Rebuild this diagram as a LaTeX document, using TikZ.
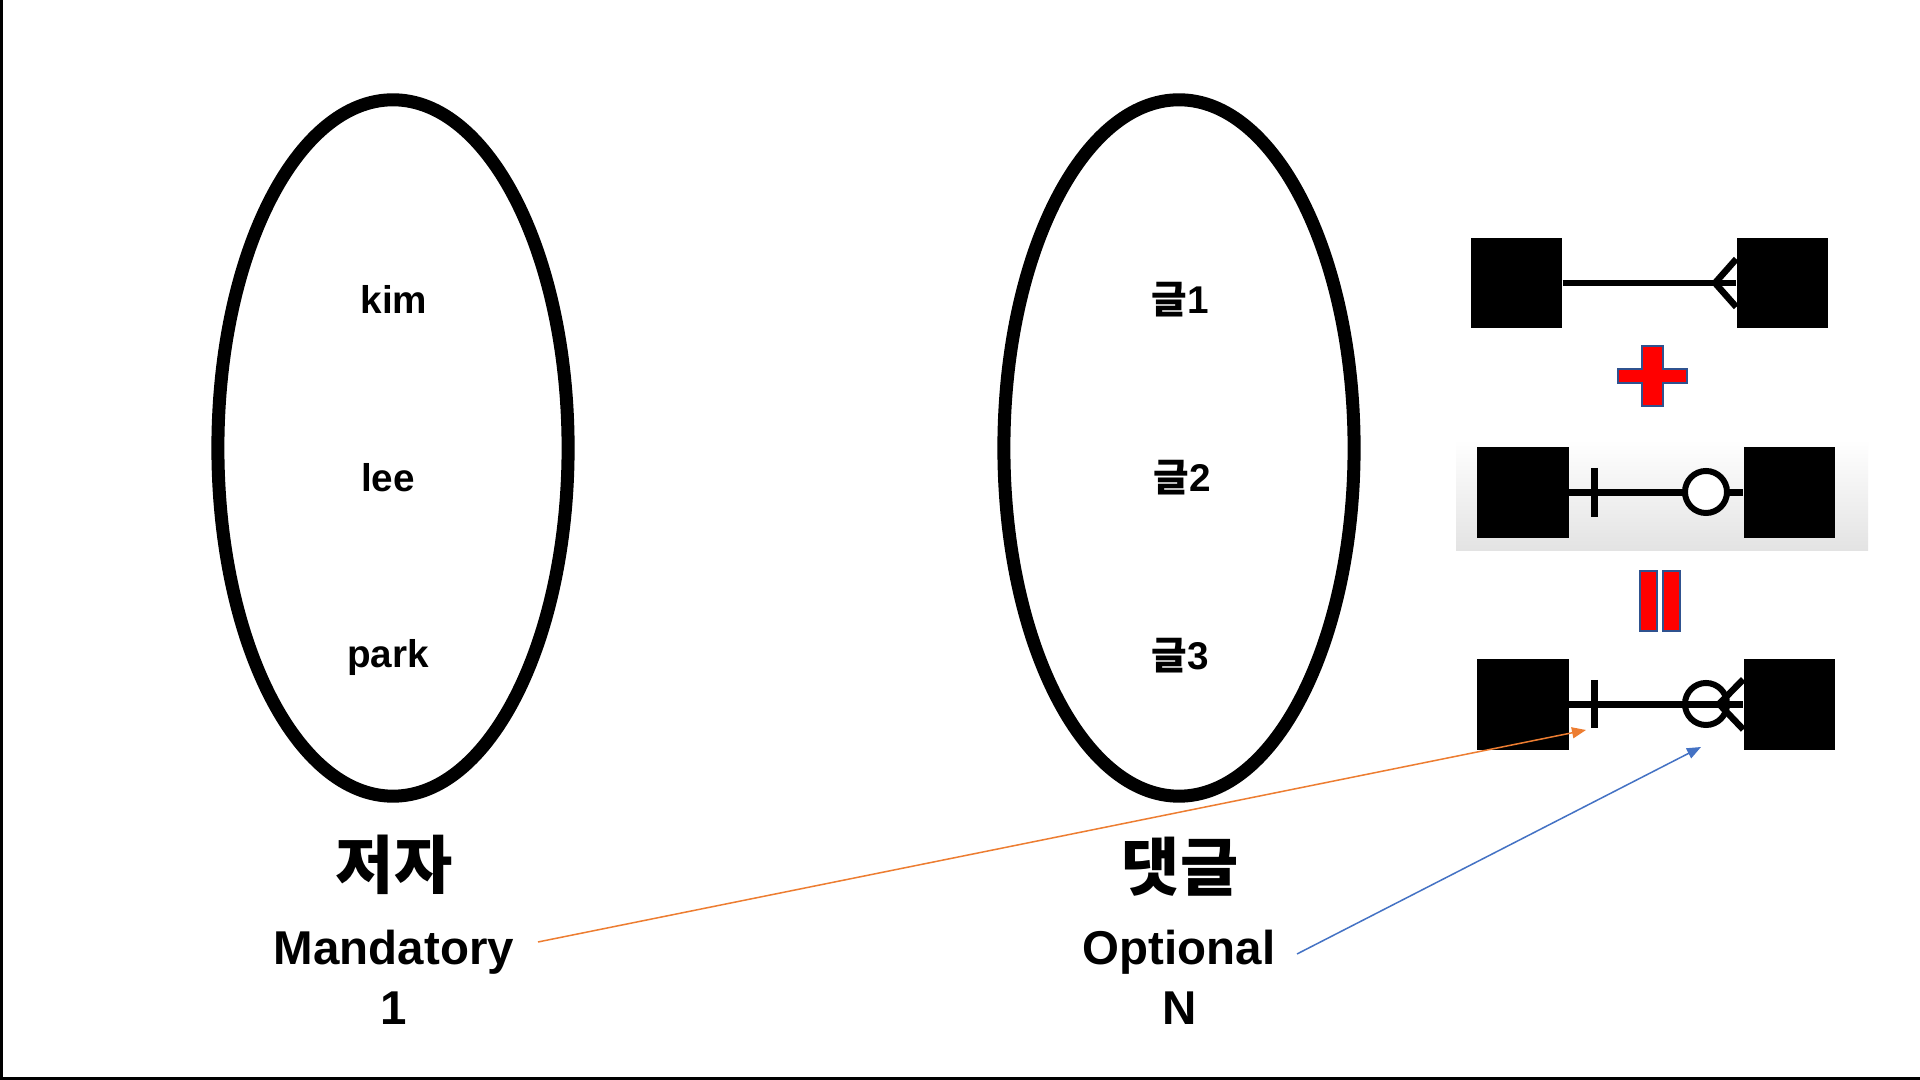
\documentclass[tikz,border=0pt]{standalone}
\usepackage{fontspec}
\setmainfont{Liberation Sans}
\newfontfamily\kr{Noto Sans CJK KR}
\usetikzlibrary{shapes.geometric,arrows.meta,calc}

\definecolor{arrorange}{HTML}{ED7D31}
\definecolor{arrblue}{HTML}{4472C4}
\definecolor{signred}{HTML}{FF0000}
\definecolor{signblue}{HTML}{2F528F}

\begin{document}
\begin{tikzpicture}[x=0.01cm,y=-0.01cm,
 setellipse/.style={draw, ellipse, line width=0.13cm, minimum width=3.5cm, minimum height=6.96cm, inner sep=0},
 itemtext/.style={font=\fontsize{11}{13}\selectfont\bfseries, anchor=base, inner sep=0},
 setname/.style={font=\kr\bfseries\fontsize{18}{21}\selectfont, inner sep=0},
 capt/.style={font=\fontsize{13.5}{16}\selectfont\bfseries, anchor=base, inner sep=0},
 entity/.style={fill=black, minimum width=0.91cm, minimum height=0.9cm, inner sep=0},
 relline/.style={line width=0.065cm},
 barmark/.style={line width=0.07cm},
 ring/.style={circle, draw, line width=0.06cm, minimum size=0.42cm, inner sep=0},
 sign/.style={fill=signred, draw=signblue, line width=0.015cm},
 pointer/.style={line width=0.015cm, -{Triangle[length=0.14cm,width=0.11cm]}}
]
\useasboundingbox (0,0) rectangle (1920,1080);
\fill[white] (0,0) rectangle (1920,1080);
\draw[line width=0.03cm] (1.5,0) -- (1.5,1078.5) -- (1920,1078.5);

% sets
\node[setellipse] (author) at (393,448) {};
\node[setellipse] (comment) at (1179,448) {};

\node[itemtext] (kim) at (394,314) {kim};
\node[itemtext] (lee) at (388,492) {lee};
\node[itemtext] (park) at (388,668) {park};

\node[itemtext] (g1) at (1180,314) {{\kr 글}1};
\node[itemtext] (g2) at (1182,492) {{\kr 글}2};
\node[itemtext] (g3) at (1180,670) {{\kr 글}3};

\node[setname] (authorname) at (394,865) {저자};
\node[setname] (commentname) at (1180,867) {댓글};

\node[capt] (mand) at (394,965) {Mandatory};
\node[capt] (one) at (394,1025) {1};
\node[capt] (opt) at (1179,965) {Optional};
\node[capt] (many) at (1180,1025) {N};

% symbol 1: one-to-many
\node[entity] (L1) at (1516.5,283) {};
\node[entity] (R1) at (1782.5,283) {};
\coordinate (cf1) at (1715,283);
\draw[relline] (L1.east) -- (R1.west);
\draw[relline] ($(R1.west)+(0,-24)$) -- (cf1) -- ($(R1.west)+(0,24)$);

% plus
\draw[sign] (1642,346) -- (1663,346) -- (1663,369) -- (1687,369) -- (1687,383) -- (1663,383) -- (1663,406) -- (1642,406) -- (1642,383) -- (1618,383) -- (1618,369) -- (1642,369) -- cycle;

% symbol 2: mandatory one / optional
\shade[top color=white, bottom color=black!11] (1456,440) rectangle (1868,551);
\node[entity] (L2) at (1523,492.5) {};
\node[entity] (R2) at (1789.5,492.5) {};
\draw[relline] (L2.east) -- (R2.west);
\draw[barmark] (1594,468) -- (1594,517);
\node[ring, fill=white] (o2) at (1706,492) {};

% equals
\draw[sign] (1640,571) rectangle (1657,631);
\draw[sign] (1663,571) rectangle (1680,631);

% symbol 3: combined
\node[entity] (L3) at (1523,704.5) {};
\node[entity] (R3) at (1789.5,704.5) {};
\coordinate (cf3) at (1719,704);
\draw[relline] (L3.east) -- (R3.west);
\draw[barmark] (1594,680) -- (1594,728);
\node[ring] (o3) at (1706,704) {};
\draw[relline] ($(R3.west)+(0,-25)$) -- (cf3) -- ($(R3.west)+(0,25)$);

% pointers
\coordinate (mstart) at (538,942);
\coordinate (mtip) at (1586,730);
\draw[pointer, arrorange] (mstart) -- (mtip);
\coordinate (ostart) at (1297,954);
\coordinate (otip) at (1701,747);
\draw[pointer, arrblue] (ostart) -- (otip);
\end{tikzpicture}
\end{document}
